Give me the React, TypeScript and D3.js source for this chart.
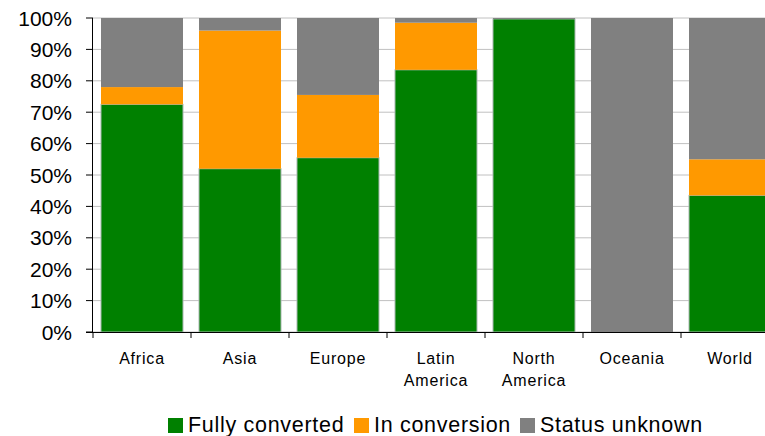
import React from 'react';
import * as d3 from 'd3';

const categories = ['Africa', 'Asia', 'Europe', 'Latin America', 'North America', 'Oceania', 'World'];
const categoryLines = [['Africa'], ['Asia'], ['Europe'], ['Latin', 'America'], ['North', 'America'], ['Oceania'], ['World']];
const fullyConverted = [72.5, 52, 55.5, 83.5, 99.7, 0, 43.5];
const inConversion = [5.5, 44, 20, 15, 0, 0, 11.5];
const statusUnknown = [22, 4, 24.5, 1.5, 0.3, 100, 45];
const seriesNames = ['Fully converted', 'In conversion', 'Status unknown'];
const seriesColors = ['#008000', '#ff9900', '#808080'];
const yTicks = [0, 10, 20, 30, 40, 50, 60, 70, 80, 90, 100];

const W = 765;
const H = 436;
const left = 93;
const top = 18;
const bottom = 332;

export default function App() {
  const x = d3
    .scaleBand<string>()
    .domain(categories)
    .range([left, left + categories.length * 98])
    .paddingInner(16 / 98)
    .paddingOuter(8 / 98);
  const y = d3.scaleLinear().domain([0, 100]).range([bottom, top]);

  const rows = categories.map((c, i) => ({
    cat: c,
    f: fullyConverted[i],
    c: inConversion[i],
    u: statusUnknown[i],
  }));
  const stack = d3.stack<any>().keys(['f', 'c', 'u'])(rows);
  const step = x.step();
  const font = 'Liberation Sans, Arial, sans-serif';

  return (
    <svg width={W} height={H} style={{ position: 'absolute', left: 0, top: 0 }} fontFamily={font}>
      {/* grid */}
      {yTicks.map((t) => (
        <line key={t} x1={left} x2={W} y1={y(t)} y2={y(t)} stroke="#c0c0c0" strokeWidth={1} />
      ))}
      {/* bars */}
      {stack.map((layer, si) => (
        <g key={si}>
          {layer.map((d, i) =>
            d[1] - d[0] > 0 ? (
              <rect
                key={i}
                x={x(categories[i])}
                width={x.bandwidth()}
                y={y(d[1])}
                height={y(d[0]) - y(d[1])}
                fill={seriesColors[si]}
                stroke={si === 0 ? '#a8b8b0' : 'none'}
                strokeWidth={si === 0 ? 1 : 0}
              />
            ) : null
          )}
        </g>
      ))}
      {/* y axis */}
      <line x1={left - 0.5} x2={left - 0.5} y1={top} y2={bottom} stroke="#000" />
      {yTicks.map((t) => (
        <g key={t}>
          <line x1={left - 7} x2={left} y1={y(t)} y2={y(t)} stroke="#000" />
          <text x={72} y={y(t)} dy="0.36em" textAnchor="end" fontSize={21} fill="#000">
            {t}%
          </text>
        </g>
      ))}
      {/* x axis */}
      <line x1={left - 7} x2={W} y1={bottom + 0.5} y2={bottom + 0.5} stroke="#000" />
      {categories.map((c, i) => (
        <line key={c} x1={left + i * step} x2={left + i * step} y1={bottom} y2={bottom + 6} stroke="#000" />
      ))}
      {categories.map((c, i) => (
        <text
          key={c}
          x={(x(c) as number) + x.bandwidth() / 2}
          y={364}
          textAnchor="middle"
          fontSize={16}
          letterSpacing={0.8}
          fill="#000"
        >
          {categoryLines[i].map((ln, j) => (
            <tspan key={j} x={(x(c) as number) + x.bandwidth() / 2} dy={j === 0 ? 0 : 22}>
              {ln}
            </tspan>
          ))}
        </text>
      ))}
      {/* legend */}
      {[168, 354, 520].map((lx, i) => (
        <g key={i}>
          <rect x={lx} y={418} width={15} height={15} fill={seriesColors[i]} />
          <text x={lx + 20} y={432} fontSize={21.5} letterSpacing={0.7} fill="#000">
            {seriesNames[i]}
          </text>
        </g>
      ))}
    </svg>
  );
}
